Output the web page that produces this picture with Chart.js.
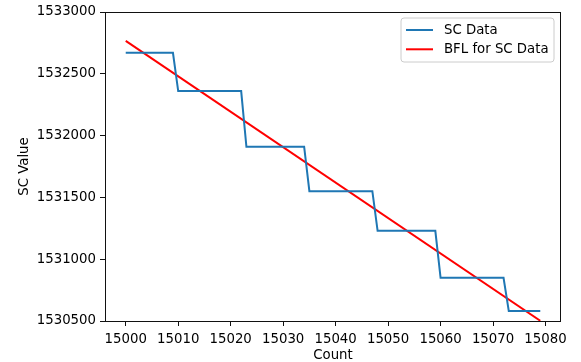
<!DOCTYPE html>
<html>
<head>
<meta charset="utf-8">
<script src="https://cdn.jsdelivr.net/npm/chart.js@4/dist/chart.umd.min.js"></script>
<style>
  html, body { margin: 0; padding: 0; background: #fff; }
  #wrap { width: 581px; height: 362px; }
</style>
</head>
<body>
<div id="wrap"><canvas id="c" width="581" height="362"></canvas></div>
<script>
// Sample counts (x values)
const counts = [
  15000, 15001, 15002, 15003, 15004, 15005, 15006, 15007, 15008, 15009,
  15010, 15011, 15012, 15013, 15014, 15015, 15016, 15017, 15018, 15019,
  15020, 15021, 15022, 15023, 15024, 15025, 15026, 15027, 15028, 15029,
  15030, 15031, 15032, 15033, 15034, 15035, 15036, 15037, 15038, 15039,
  15040, 15041, 15042, 15043, 15044, 15045, 15046, 15047, 15048, 15049,
  15050, 15051, 15052, 15053, 15054, 15055, 15056, 15057, 15058, 15059,
  15060, 15061, 15062, 15063, 15064, 15065, 15066, 15067, 15068, 15069,
  15070, 15071, 15072, 15073, 15074, 15075, 15076, 15077, 15078, 15079
];

// SC readings per count
const scValues = [
  1532670, 1532670, 1532670, 1532670, 1532670, 1532670, 1532670, 1532670, 1532670, 1532670,
  1532360, 1532360, 1532360, 1532360, 1532360, 1532360, 1532360, 1532360, 1532360, 1532360,
  1532360, 1532360, 1532360, 1531910, 1531910, 1531910, 1531910, 1531910, 1531910, 1531910,
  1531910, 1531910, 1531910, 1531910, 1531910, 1531550, 1531550, 1531550, 1531550, 1531550,
  1531550, 1531550, 1531550, 1531550, 1531550, 1531550, 1531550, 1531550, 1531230, 1531230,
  1531230, 1531230, 1531230, 1531230, 1531230, 1531230, 1531230, 1531230, 1531230, 1531230,
  1530850, 1530850, 1530850, 1530850, 1530850, 1530850, 1530850, 1530850, 1530850, 1530850,
  1530850, 1530850, 1530850, 1530580, 1530580, 1530580, 1530580, 1530580, 1530580, 1530580
];

// Best-fit line end points
const bflCounts = [15000, 15079];
const bflValues = [1532767, 1530502];

// Axis ticks
const xTicks = [15000, 15010, 15020, 15030, 15040, 15050, 15060, 15070, 15080];
const yTicks = [1530500, 1531000, 1531500, 1532000, 1532500, 1533000];

const FONT = 'DejaVu Sans';
const FS = 13.3;

const scPoints = counts.map((c, i) => ({ x: c, y: scValues[i] }));
const bflPoints = bflCounts.map((c, i) => ({ x: c, y: bflValues[i] }));

// Full box around the plotting area plus a legend in the upper right
const framePlugin = {
  id: 'frameAndLegend',
  afterDraw(chart) {
    const { ctx, chartArea: a } = chart;
    ctx.save();
    ctx.strokeStyle = '#111';
    ctx.lineWidth = 1;
    ctx.strokeRect(Math.round(a.left) + 0.5, Math.round(a.top) + 0.5,
                   Math.round(a.right - a.left) - 1, Math.round(a.bottom - a.top));

    // legend box
    const bx = 401, by = 18, bw = 153, bh = 44, r = 3;
    ctx.beginPath();
    ctx.moveTo(bx + r, by);
    ctx.lineTo(bx + bw - r, by);
    ctx.quadraticCurveTo(bx + bw, by, bx + bw, by + r);
    ctx.lineTo(bx + bw, by + bh - r);
    ctx.quadraticCurveTo(bx + bw, by + bh, bx + bw - r, by + bh);
    ctx.lineTo(bx + r, by + bh);
    ctx.quadraticCurveTo(bx, by + bh, bx, by + bh - r);
    ctx.lineTo(bx, by + r);
    ctx.quadraticCurveTo(bx, by, bx + r, by);
    ctx.closePath();
    ctx.fillStyle = 'rgba(255,255,255,0.8)';
    ctx.fill();
    ctx.strokeStyle = '#cccccc';
    ctx.lineWidth = 1;
    ctx.stroke();

    const rows = [30, 49.3];
    chart.data.datasets.forEach((ds, i) => {
      const y = rows[i];
      ctx.beginPath();
      ctx.moveTo(406, y);
      ctx.lineTo(433, y);
      ctx.strokeStyle = ds.borderColor;
      ctx.lineWidth = 2;
      ctx.stroke();
      ctx.fillStyle = '#000';
      ctx.font = FS + 'px "' + FONT + '"';
      ctx.textBaseline = 'middle';
      ctx.textAlign = 'left';
      ctx.fillText(ds.label, 444, y + 0.5);
    });
    ctx.restore();
  }
};

new Chart(document.getElementById('c'), {
  type: 'line',
  data: {
    datasets: [
      {
        label: 'SC Data',
        data: scPoints,
        borderColor: '#1f77b4',
        borderWidth: 2,
        pointRadius: 0,
        tension: 0,
        fill: false
      },
      {
        label: 'BFL for SC Data',
        data: bflPoints,
        borderColor: '#ff0000',
        borderWidth: 2,
        pointRadius: 0,
        tension: 0,
        fill: false
      }
    ]
  },
  options: {
    responsive: false,
    animation: false,
    devicePixelRatio: 1,
    layout: { padding: { left: 0, top: 12, right: 20, bottom: 0 } },
    plugins: { legend: { display: false }, tooltip: { enabled: false } },
    scales: {
      x: {
        type: 'linear',
        min: 14996.05,
        max: 15082.95,
        afterBuildTicks: s => { s.ticks = xTicks.map(v => ({ value: v })); },
        afterFit: s => { s.height = 41; },
        grid: { display: true, drawOnChartArea: false, drawTicks: true, tickLength: 5, tickColor: '#111' },
        border: { display: false },
        ticks: {
          color: '#000',
          font: { family: FONT, size: FS },
          padding: 6,
          maxRotation: 0,
          autoSkip: false,
          callback: v => String(v)
        },
        title: {
          display: true,
          text: 'Count',
          color: '#000',
          font: { family: FONT, size: FS },
          padding: { top: 0, bottom: -2 }
        }
      },
      y: {
        type: 'linear',
        min: 1530500,
        max: 1533000,
        afterBuildTicks: s => { s.ticks = yTicks.map(v => ({ value: v })); },
        afterFit: s => { s.width = 105; },
        grid: { display: true, drawOnChartArea: false, drawTicks: true, tickLength: 5, tickColor: '#111' },
        border: { display: false },
        ticks: {
          color: '#000',
          font: { family: FONT, size: FS },
          padding: 4,
          autoSkip: false,
          callback: v => String(v)
        },
        title: {
          display: true,
          text: 'SC Value',
          color: '#000',
          font: { family: FONT, size: FS },
          padding: { top: 17, bottom: 0 }
        }
      }
    }
  },
  plugins: [framePlugin]
});
</script>
</body>
</html>
